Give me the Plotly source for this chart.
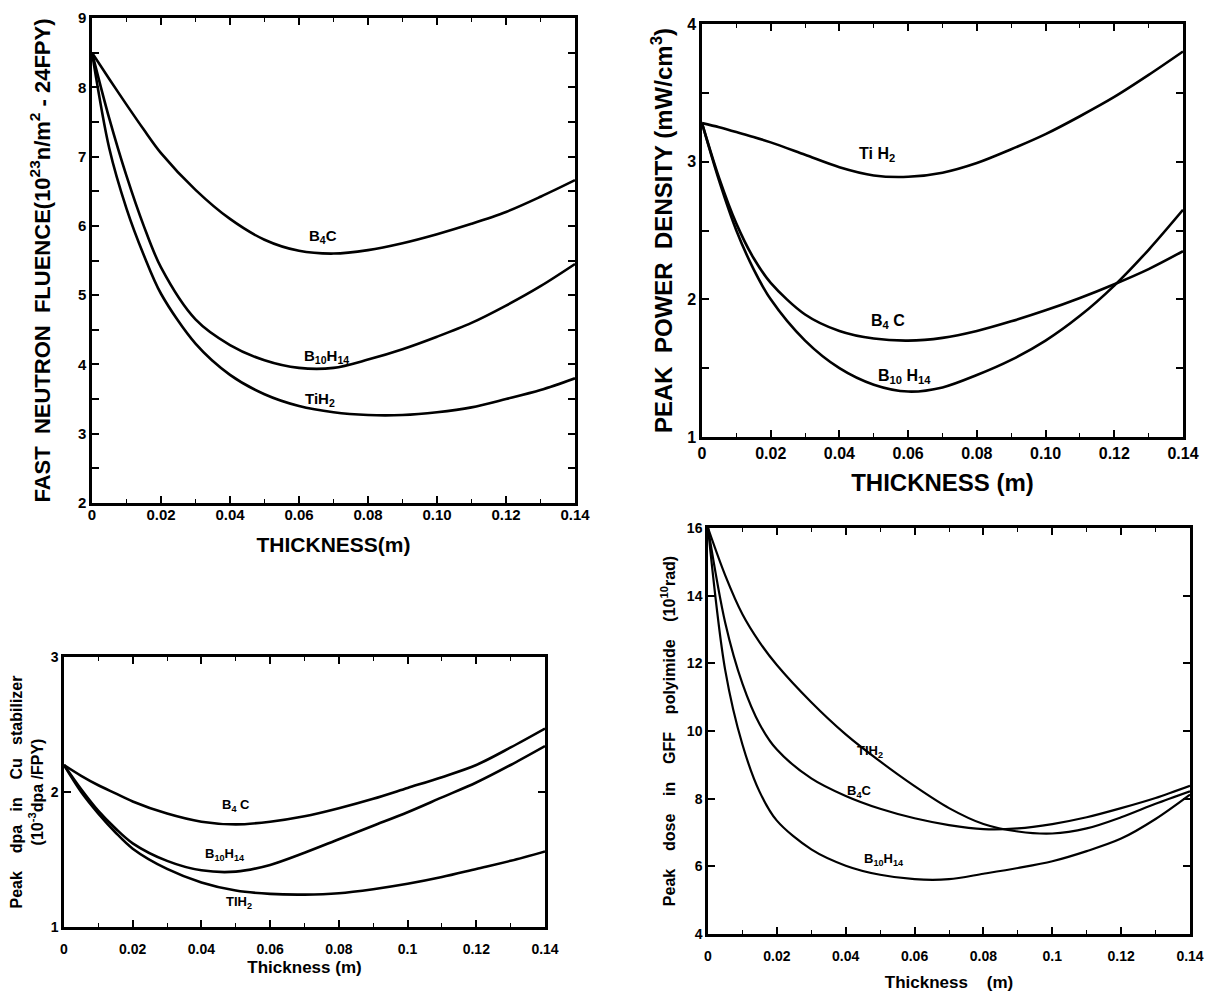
import plotly.graph_objects as go

# ---------------- data ----------------
thk = [0, 0.005, 0.01, 0.015, 0.02, 0.03, 0.04, 0.05, 0.06, 0.07, 0.08, 0.09, 0.10, 0.11, 0.12, 0.13, 0.14]

# Panel 1: fast neutron fluence (1e23 n/m2 - 24FPY)
fl_b4c   = [8.5, 8.12, 7.75, 7.39, 7.05, 6.52, 6.1, 5.8, 5.64, 5.6, 5.65, 5.75, 5.88, 6.03, 6.2, 6.42, 6.66]
fl_b10   = [8.5, 7.55, 6.72, 6.0, 5.4, 4.65, 4.28, 4.06, 3.95, 3.95, 4.07, 4.22, 4.4, 4.6, 4.85, 5.13, 5.45]
fl_tih2  = [8.5, 7.12, 6.25, 5.58, 5.02, 4.3, 3.85, 3.57, 3.4, 3.31, 3.27, 3.27, 3.31, 3.38, 3.5, 3.63, 3.8]

# Panel 2: peak power density (mW/cm3)
pd_tih2  = [3.28, 3.25, 3.215, 3.18, 3.14, 3.05, 2.96, 2.9, 2.89, 2.92, 2.99, 3.09, 3.2, 3.33, 3.47, 3.63, 3.8]
pd_b4c   = [3.28, 2.88, 2.55, 2.3, 2.12, 1.89, 1.77, 1.715, 1.70, 1.72, 1.77, 1.84, 1.92, 2.01, 2.11, 2.22, 2.35]
pd_b10   = [3.28, 2.86, 2.5, 2.22, 2.0, 1.7, 1.5, 1.38, 1.33, 1.36, 1.45, 1.56, 1.7, 1.88, 2.1, 2.36, 2.65]

# Panel 3: peak dpa in Cu stabilizer (1e-3 dpa/FPY)
dpa_b4c  = [2.2, 2.12, 2.05, 1.99, 1.93, 1.84, 1.78, 1.76, 1.78, 1.82, 1.88, 1.95, 2.03, 2.11, 2.2, 2.33, 2.47]
dpa_b10  = [2.2, 2.02, 1.86, 1.73, 1.62, 1.49, 1.42, 1.41, 1.46, 1.55, 1.65, 1.75, 1.85, 1.96, 2.07, 2.2, 2.34]
dpa_tih2 = [2.2, 2.0, 1.84, 1.7, 1.58, 1.43, 1.33, 1.27, 1.245, 1.24, 1.25, 1.28, 1.32, 1.37, 1.43, 1.49, 1.56]

# Panel 4: peak dose in GFF polyimide (1e10 rad)
dose_tih2 = [16, 14.6, 13.45, 12.62, 11.95, 10.85, 9.9, 9.1, 8.37, 7.72, 7.25, 7.03, 6.97, 7.12, 7.45, 7.85, 8.22]
dose_b4c  = [16, 13.2, 11.4, 10.2, 9.45, 8.6, 8.08, 7.7, 7.42, 7.22, 7.1, 7.12, 7.25, 7.45, 7.72, 8.02, 8.38]
dose_b10  = [16, 11.8, 9.6, 8.2, 7.35, 6.5, 6.02, 5.75, 5.62, 5.62, 5.78, 5.95, 6.15, 6.45, 6.82, 7.4, 8.12]

x_ticks = [0, 0.02, 0.04, 0.06, 0.08, 0.10, 0.12, 0.14]
x_text_top = ["0", "0.02", "0.04", "0.06", "0.08", "0.10", "0.12", "0.14"]
x_text_bot = ["0", "0.02", "0.04", "0.06", "0.08", "0.1", "0.12", "0.14"]

FONT = "Liberation Sans, Arial, sans-serif"
W, H = 1205, 994

fig = go.Figure()

def add_line(xa, ya, y, width=2.6):
    fig.add_trace(go.Scatter(x=thk, y=y, xaxis=xa, yaxis=ya, mode="lines",
                             line=dict(color="black", width=width, shape="spline", smoothing=0.9),
                             showlegend=False, hoverinfo="skip"))

add_line("x", "y", fl_b4c); add_line("x", "y", fl_b10); add_line("x", "y", fl_tih2)
add_line("x2", "y2", pd_tih2); add_line("x2", "y2", pd_b4c); add_line("x2", "y2", pd_b10)
add_line("x3", "y3", dpa_b4c); add_line("x3", "y3", dpa_b10); add_line("x3", "y3", dpa_tih2)
add_line("x4", "y4", dose_tih2, 2.2); add_line("x4", "y4", dose_b4c, 2.2); add_line("x4", "y4", dose_b10, 2.2)

def dom(px0, px1, py0, py1):
    return [px0 / W, px1 / W], [1 - py1 / H, 1 - py0 / H]

d1 = dom(92, 575, 18, 503)
d2 = dom(702, 1183, 24, 437)
d3 = dom(64, 545, 657, 927)
d4 = dom(708, 1190, 528, 934)

def xaxis(domain, anchor, text, title, tsize, titlesize, standoff, lblstand=0):
    return dict(domain=domain, anchor=anchor, range=[0, 0.14], tickvals=x_ticks, ticktext=text,
                automargin=False, ticklabelstandoff=lblstand,
                ticks="inside", ticklen=7, tickwidth=1.5, tickcolor="black", mirror="allticks",
                showline=True, linewidth=2.5, linecolor="black", showgrid=False, zeroline=False,
                minor=dict(dtick=0.01, tick0=0, ticks="inside", ticklen=4, tickcolor="black", tickwidth=1.2),
                tickfont=dict(family=FONT, size=tsize, color="black", weight="bold"),
                title=dict(text=title, standoff=standoff,
                           font=dict(family=FONT, size=titlesize, color="black", weight="bold")))

def yaxis(domain, anchor, rng, dtick, mdtick, title, tsize, titlesize, standoff):
    d = dict(domain=domain, anchor=anchor, range=rng, dtick=dtick, tick0=rng[0],
             automargin=False,
             ticks="inside", ticklen=7, tickwidth=1.5, tickcolor="black", mirror="allticks",
             showline=True, linewidth=2.5, linecolor="black", showgrid=False, zeroline=False,
             tickfont=dict(family=FONT, size=tsize, color="black", weight="bold"),
             title=dict(text=title, standoff=standoff,
                        font=dict(family=FONT, size=titlesize, color="black", weight="bold")))
    if mdtick:
        d["minor"] = dict(dtick=mdtick, tick0=rng[0], ticks="inside", ticklen=7,
                          tickcolor="black", tickwidth=1.5)
    return d

fig.update_layout(
    width=W, height=H, margin=dict(l=0, r=0, t=0, b=0, autoexpand=False),
    paper_bgcolor="white", plot_bgcolor="white", showlegend=False,
    xaxis=xaxis(d1[0], "y", x_text_top, "THICKNESS(m)", 15, 21, 16, -4),
    yaxis=yaxis(d1[1], "x", [2, 9], 1, 0.5,
                "FAST  NEUTRON  FLUENCE(10<sup>23</sup>n/m<sup>2</sup> - 24FPY)", 15, 22, 22),
    xaxis2=xaxis(d2[0], "y2", x_text_top, "THICKNESS (m)", 16, 24, 14),
    yaxis2=yaxis(d2[1], "x2", [1, 4], 1, 0.5,
                 "PEAK  POWER  DENSITY (mW/cm<sup>3</sup>)", 16, 24, 8),
    xaxis3=xaxis(d3[0], "y3", x_text_bot, "Thickness (m)", 14, 17, 6, 7),
    yaxis3=yaxis(d3[1], "x3", [1, 3], 1, None,
                 "Peak    dpa   in    Cu   stabilizer<br>(10<sup>-3</sup>dpa /FPY)", 14, 16, 4),
    xaxis4=xaxis(d4[0], "y4", x_text_bot, "Thickness    (m)", 14, 17, 14, 7),
    yaxis4=yaxis(d4[1], "x4", [4, 16], 2, None,
                 "Peak    dose    in    GFF    polyimide    (10<sup>10</sup>rad)", 14, 16, 8),
)

def lab(xref, yref, x, y, text, size=13):
    fig.add_annotation(xref=xref, yref=yref, x=x, y=y, text=text, showarrow=False,
                       font=dict(family=FONT, size=size, color="black", weight="bold"))

lab("x", "y", 0.067, 5.85, "B<sub>4</sub>C", 15)
lab("x", "y", 0.068, 4.12, "B<sub>10</sub>H<sub>14</sub>", 15)
lab("x", "y", 0.066, 3.5, "TiH<sub>2</sub>", 15)

lab("x2", "y2", 0.051, 3.05, "Ti H<sub>2</sub>", 16)
lab("x2", "y2", 0.054, 1.84, "B<sub>4</sub> C", 16)
lab("x2", "y2", 0.059, 1.44, "B<sub>10</sub> H<sub>14</sub>", 16)

lab("x3", "y3", 0.05, 1.9, "B<sub>4</sub> C", 13)
lab("x3", "y3", 0.047, 1.54, "B<sub>10</sub>H<sub>14</sub>", 13)
lab("x3", "y3", 0.051, 1.18, "TIH<sub>2</sub>", 13)

lab("x4", "y4", 0.047, 9.4, "TIH<sub>2</sub>", 13)
lab("x4", "y4", 0.044, 8.2, "B<sub>4</sub>C", 13)
lab("x4", "y4", 0.051, 6.2, "B<sub>10</sub>H<sub>14</sub>", 13)

fig.write_html("out.html", config={"displayModeBar": False},
               post_script="document.body.style.margin='0';document.body.style.overflow='hidden';")
